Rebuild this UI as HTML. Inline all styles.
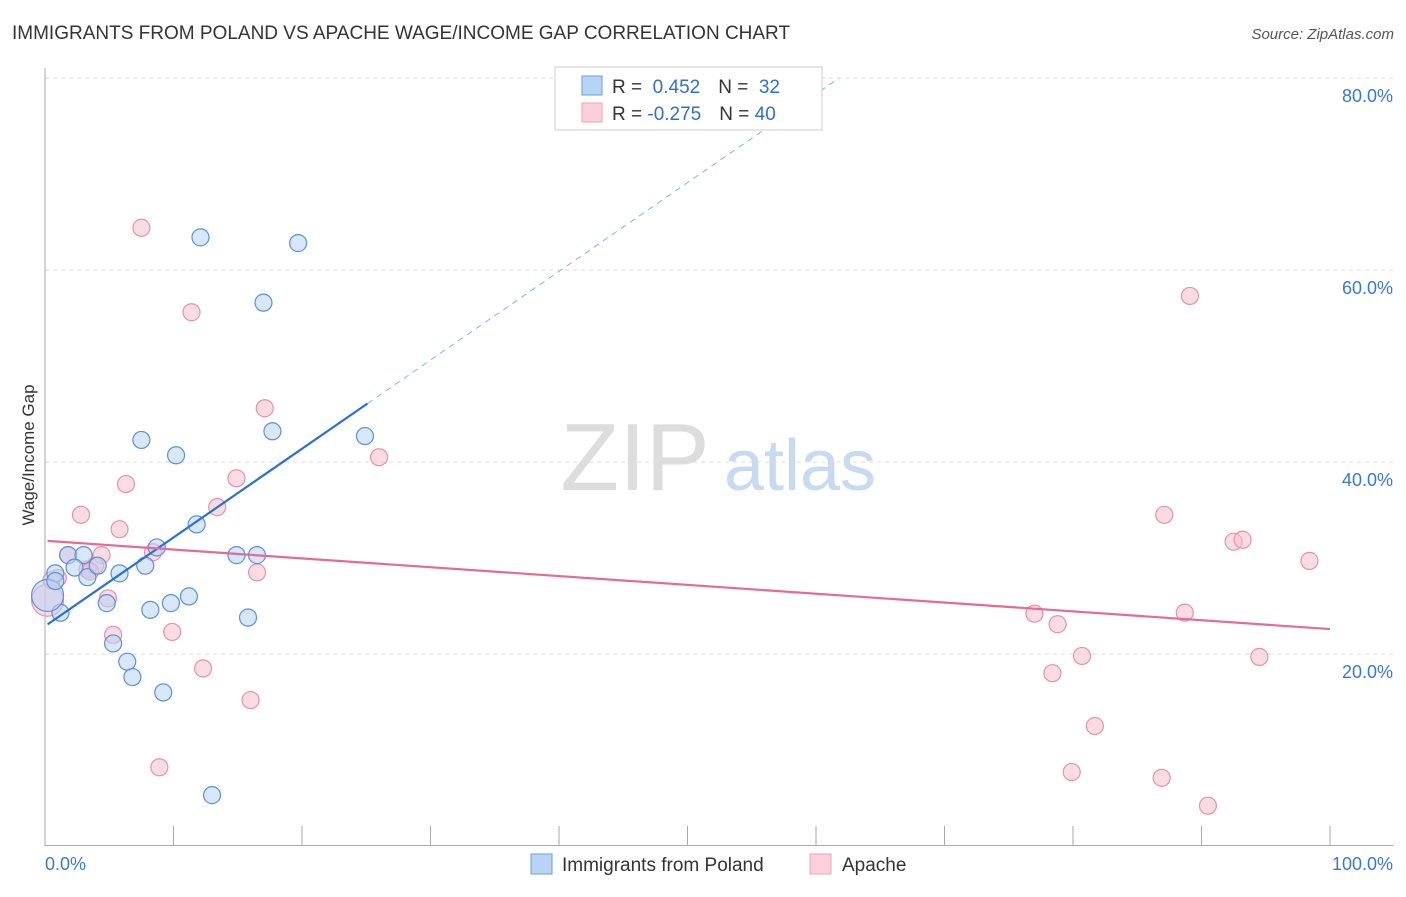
<!DOCTYPE html>
<html><head><meta charset="utf-8"><style>
body{margin:0;background:#fff;font-family:"Liberation Sans",sans-serif}
svg text{font-family:"Liberation Sans",sans-serif}
</style></head><body>
<svg id="c" width="1406" height="892" xmlns="http://www.w3.org/2000/svg">
<text x="12" y="39" font-size="19" fill="#333">IMMIGRANTS FROM POLAND VS APACHE WAGE/INCOME GAP CORRELATION CHART</text>
<text x="1394" y="39" font-size="15" fill="#555" text-anchor="end" font-style="italic">Source: ZipAtlas.com</text>
<text x="34" y="455" font-size="17" fill="#333" text-anchor="middle" transform="rotate(-90 34 455)">Wage/Income Gap</text>
<g><text x="635" y="490" font-size="96" fill="#ddd" text-anchor="middle" font-family="Liberation Serif">ZIP</text><text x="800" y="490" font-size="72" fill="#c8daf0" text-anchor="middle">atlas</text></g>
<g id="grid"></g><g id="axes"></g><g id="marks"></g>
<g>
<rect x="555" y="67" width="267" height="63" fill="#fff" stroke="#ccc"/>
<rect x="582" y="76" width="20" height="19" fill="#b8d4f5" stroke="#6a9ee0"/>
<rect x="582" y="103" width="20" height="19" fill="#fccfdc" stroke="#f0a0b8"/>
<text x="612" y="93" font-size="19" fill="#333">R = <tspan fill="#2f6fd0">&#160;0.452</tspan><tspan dx="18">N = </tspan><tspan fill="#2f6fd0">&#160;32</tspan></text>
<text x="612" y="120" font-size="19" fill="#333">R = <tspan fill="#2f6fd0">-0.275</tspan><tspan dx="18">N = </tspan><tspan fill="#2f6fd0">40</tspan></text>
</g>
<g>
<rect x="531" y="854" width="21" height="20" fill="#b8d4f5" stroke="#6a9ee0"/>
<text x="562" y="871" font-size="19" fill="#333">Immigrants from Poland</text>
<rect x="810" y="854" width="21" height="20" fill="#fccfdc" stroke="#f0a0b8"/>
<text x="842" y="871" font-size="19" fill="#333">Apache</text>
</g>
</svg>
<script>
const blueX=[0.8,1.8,3.0,2.3,3.3,4.1,1.2,4.8,5.3,5.8,6.4,6.8,7.8,8.2,8.7,9.2,9.8,10.2,7.5,11.2,11.8,12.1,13.0,14.9,15.8,16.5,17.0,17.7,19.7,24.9,0.2,0.8];
const blueY=[28.4,30.3,30.3,29.0,28.0,29.2,24.3,25.3,21.1,28.4,19.2,17.6,29.2,24.6,31.1,16.0,25.3,40.7,42.3,26.0,33.5,63.4,5.3,30.3,23.8,30.3,56.6,43.2,62.8,42.7,26.1,27.6];
const pinkX=[7.5,11.4,17.1,26.0,6.3,14.9,2.8,5.8,13.4,1.8,4.4,8.4,1.0,3.3,3.9,4.9,5.3,9.9,12.3,16.0,8.9,16.5,0.2,89.1,87.1,92.5,93.2,98.4,77.0,78.8,88.7,80.7,78.4,94.5,81.7,79.9,86.9,90.5,0.5,3.5];
const pinkY=[64.4,55.6,45.6,40.5,37.7,38.3,34.5,33.0,35.3,30.3,30.3,30.6,27.9,28.8,29.2,25.8,22.0,22.3,18.5,15.2,8.2,28.5,25.6,57.3,34.5,31.7,31.9,29.7,24.2,23.1,24.3,19.8,18.0,19.7,12.5,7.7,7.1,4.2,27.7,28.6];
const yTicks=[20,40,60,80];
const yTickLabels=["20.0%","40.0%","60.0%","80.0%"];
const xTickLabels=["0.0%","100.0%"];
const blueTrend=[22.9,0.924];
const pinkTrend=[31.8,-0.092];
const sx=v=>45+v*12.85, sy=v=>846-v*9.6;
const NS="http://www.w3.org/2000/svg";
function mk(t,a,p){const e=document.createElementNS(NS,t);for(const k in a)e.setAttribute(k,a[k]);p.appendChild(e);return e;}
const grid=document.getElementById('grid'),axes=document.getElementById('axes'),marks=document.getElementById('marks');
yTicks.forEach((t,i)=>{
 const l=mk('line',{x1:45,x2:1393,y1:sy(t),y2:sy(t),stroke:'#ddd','stroke-dasharray':'4 4'},grid);
 
 
 const tx=mk('text',{x:1393,y:sy(t)+24,'font-size':18,fill:'#3a78d0','text-anchor':'end'},axes);
 tx.textContent=yTickLabels[i];
 
 
});
const ya=mk('line',{x1:45,x2:45,y1:68,y2:846,stroke:'#aaa'},axes);


const xa=mk('line',{x1:45,x2:1393,y1:845.5,y2:845.5,stroke:'#aaa'},axes);


for(let i=1;i<=10;i++){const t=mk('line',{x1:sx(i*10),x2:sx(i*10),y1:826,y2:846,stroke:'#aaa'},axes);
 
 }
[[0,'start',45],[100,'end',1393]].forEach((d,i)=>{const t=mk('text',{x:d[2],y:870,'font-size':18,fill:'#3a78d0','text-anchor':d[1]},axes);t.textContent=xTickLabels[i];
 
 });
function dots(X,Y,fill,stroke,name,big){X.forEach((x,i)=>{const c=mk('circle',{cx:sx(x),cy:sy(Y[i]),r:(i===big?16:8.5),fill:fill,'fill-opacity':0.55,stroke:stroke,'stroke-width':1.2},marks);
 
 });}
dots(pinkX,pinkY,'#f8bfd0','#e890ac','apache-point',22);
dots(blueX,blueY,'#b8d4f5','#5a90dc','poland-point',30);
const bs=mk('line',{x1:sx(0.2),y1:sy(blueTrend[0]+0.2*blueTrend[1]),x2:sx(25.1),y2:sy(blueTrend[0]+25.1*blueTrend[1]),stroke:'#2a6fd6','stroke-width':2.2},marks);


const xe=(80-blueTrend[0])/blueTrend[1];
const bd=mk('line',{x1:sx(25.1),y1:sy(blueTrend[0]+25.1*blueTrend[1]),x2:sx(xe),y2:sy(80),stroke:'#8ab0e0','stroke-width':1,'stroke-dasharray':'6 5'},marks);


const pl=mk('line',{x1:sx(0.2),y1:sy(pinkTrend[0]+0.2*pinkTrend[1]),x2:sx(100),y2:sy(pinkTrend[0]+100*pinkTrend[1]),stroke:'#e56a98','stroke-width':2.2},marks);


</script>
</body></html>
